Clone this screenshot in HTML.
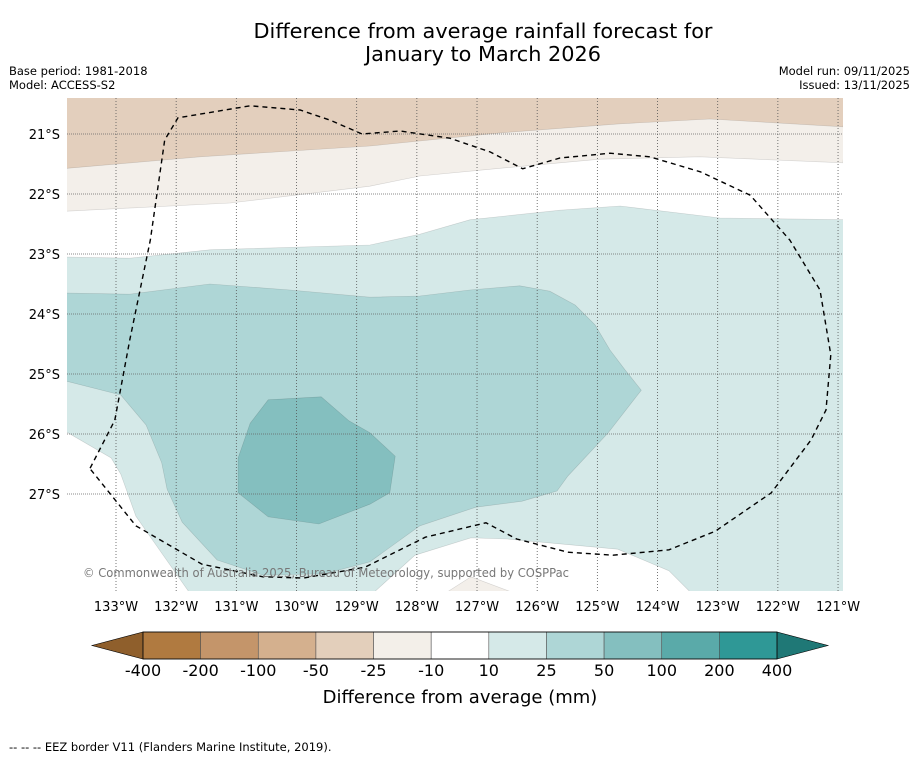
<!DOCTYPE html>
<html><head><meta charset="utf-8">
<style>
body{margin:0;background:#fff;width:919px;height:758px;overflow:hidden;font-family:"DejaVu Sans","Liberation Sans",sans-serif;}
svg{position:absolute;left:0;top:0}
</style></head>
<body>
<svg id="chart" width="919" height="758" viewBox="0 0 919 758" xmlns="http://www.w3.org/2000/svg" font-family="DejaVu Sans, Liberation Sans, sans-serif">
<text x="483" y="38" text-anchor="middle" font-size="20" fill="#000" textLength="459" lengthAdjust="spacingAndGlyphs">Difference from average rainfall forecast for</text>
<text x="483" y="61" text-anchor="middle" font-size="20" fill="#000" textLength="236" lengthAdjust="spacingAndGlyphs">January to March 2026</text>
<text x="9" y="75" font-size="11.5">Base period: 1981-2018</text>
<text x="9" y="89" font-size="11.5">Model: ACCESS-S2</text>
<text x="910" y="75" font-size="11.5" text-anchor="end">Model run: 09/11/2025</text>
<text x="910" y="89" font-size="11.5" text-anchor="end">Issued: 13/11/2025</text>
<defs><clipPath id="mapclip"><rect x="67" y="98" width="776" height="493"/></clipPath></defs>
<g id="map" clip-path="url(#mapclip)"></g>
<g id="grid"></g>
<g id="axes"></g>
<text x="83" y="577" font-size="12" fill="#777" textLength="486" lengthAdjust="spacingAndGlyphs">© Commonwealth of Australia 2025, Bureau of Meteorology, supported by COSPPac</text>
<g id="cbar"></g>
<text x="460" y="703" text-anchor="middle" font-size="18">Difference from average (mm)</text>
<text x="9" y="751" font-size="11.5">--  --  -- EEZ border V11 (Flanders Marine Institute, 2019).</text>
</svg>
<script>
const NS="http://www.w3.org/2000/svg";
// longitude in degrees West, latitude in degrees South
const lonTicks=[133,132,131,130,129,128,127,126,125,124,123,122,121];
const latTicks=[21,22,23,24,25,26,27];
const brownBand=[[133.9,20.3],[120.8,20.3],[120.92,20.88],[123.13,20.75],[124.62,20.83],[126.6,20.98],[128.78,21.2],[131.6,21.38],[133.9,21.58]];
const beigeBand=[[133.9,20.3],[120.8,20.3],[120.92,21.48],[123.3,21.38],[124.96,21.42],[126.6,21.57],[127.95,21.7],[128.78,21.87],[131.1,22.15],[133.9,22.29]];
const lightTeal=[[133.9,23.05],[132.77,23.07],[131.44,22.93],[128.78,22.85],[127.95,22.67],[127.12,22.43],[125.62,22.27],[124.62,22.2],[122.96,22.4],[120.8,22.43],[120.8,28.8],[133.9,28.8]];
const whiteWedge=[[133.9,25.92],[133.08,26.4],[132.92,26.67],[132.67,27.37],[132.37,27.8],[131.74,28.7],[133.9,28.7]];
const whiteBottom=[[128.78,28.7],[128.03,28.02],[127.1,27.73],[126.5,27.75],[124.66,27.92],[123.81,28.28],[123.39,28.7]];
const beigeSmall=[[127.6,28.7],[127.1,28.38],[126.25,28.7]];
const mediumTeal=[[133.9,23.65],[132.77,23.67],[131.44,23.5],[130.11,23.6],[128.78,23.72],[127.95,23.7],[127.12,23.6],[126.29,23.53],[125.79,23.62],[125.37,23.85],[125.04,24.18],[124.79,24.6],[124.54,24.93],[124.27,25.27],[124.82,25.98],[125.49,26.7],[125.67,26.95],[126.25,27.12],[127.02,27.22],[127.95,27.53],[128.78,28.13],[129.54,28.33],[130.56,28.35],[131.32,28.1],[131.9,27.47],[132.15,26.92],[132.24,26.48],[132.5,25.85],[132.92,25.35],[133.9,25.1]];
const darkTeal=[[130.47,25.43],[129.59,25.38],[129.13,25.78],[128.78,25.98],[128.36,26.37],[128.45,26.98],[128.78,27.17],[129.63,27.5],[130.47,27.38],[130.97,26.98],[130.97,26.4],[130.77,25.82]];
const eezLine=[[133.43,26.57],[133.02,25.77],[132.77,24.43],[132.43,22.77],[132.19,21.1],[131.97,20.73],[130.77,20.53],[129.94,20.6],[129.44,20.77],[128.91,21],[128.28,20.95],[127.45,21.07],[126.78,21.3],[126.24,21.58],[125.62,21.4],[124.79,21.32],[124.13,21.38],[123.29,21.63],[122.46,22.02],[121.8,22.77],[121.3,23.6],[121.12,24.68],[121.2,25.6],[121.45,26.1],[122.11,26.98],[123.04,27.62],[123.81,27.93],[124.74,28.02],[125.49,27.97],[126.34,27.75],[126.85,27.48],[127.86,27.72],[128.86,28.22],[129.88,28.4],[130.56,28.38],[131.57,28.17],[132.67,27.53],[133.43,26.58]];
const cbarLabels=["-400","-200","-100","-50","-25","-10","10","25","50","100","200","400"];
const cbarColors=["#b07a40","#c4956a","#d4b08e","#e3cfbb","#f3efe9","#ffffff","#d5e9e8","#aed6d6","#84bfbf","#5aaaa9","#2f9896"];

const xS=lon=>116+(133-lon)*60.17;
const yS=lat=>134+(lat-21)*60;
const pts=a=>a.map(p=>xS(p[0]).toFixed(1)+","+yS(p[1]).toFixed(1)).join(" ");
function mk(tag,attrs,parent){const e=document.createElementNS(NS,tag);for(const k in attrs)e.setAttribute(k,attrs[k]);parent.appendChild(e);return e;}
const map=document.getElementById("map");
let bg=mk("rect",{x:67,y:98,width:776,height:493,fill:"#fff"},map);


function poly(arr,fill,name){const p=mk("polygon",{points:pts(arr),fill:fill,stroke:"rgba(0,0,0,0.15)","stroke-width":0.6},map);


return p;}
poly(beigeBand,"#f3efea","contour-minus10-band");
poly(brownBand,"#e3cfbd","contour-minus25-band");
poly(lightTeal,"#d5e9e8","contour-10-25-band");
poly(whiteWedge,"#ffffff","neutral-area-west");
poly(whiteBottom,"#ffffff","neutral-area-south");
poly(beigeSmall,"#f3efea","contour-minus10-patch");
poly(mediumTeal,"#aed6d6","contour-25-50-band");
poly(darkTeal,"#84bfbf","contour-50-100-band");

const grid=document.getElementById("grid");
lonTicks.forEach(l=>{const x=xS(l);
 const ln=mk("line",{x1:x,y1:98,x2:x,y2:591,stroke:"#555","stroke-width":0.8,"stroke-dasharray":"1,2"},grid);
 
 
 const t=mk("text",{x:x,y:611,"text-anchor":"middle","font-size":13},document.getElementById("axes"));t.textContent=l+"°W";
 
 
});
latTicks.forEach(l=>{const y=yS(l);
 const ln=mk("line",{x1:67,y1:y,x2:843,y2:y,stroke:"#666","stroke-width":0.8,"stroke-dasharray":"1,1"},grid);
 
 
 const t=mk("text",{x:60,y:y+5,"text-anchor":"end","font-size":13},document.getElementById("axes"));t.textContent=l+"°S";
 
 
});
const eez=mk("polyline",{points:pts(eezLine),fill:"none",stroke:"#000","stroke-width":1.4,"stroke-dasharray":"5,4"},grid);



const cb=document.getElementById("cbar");
const x0=143,x1=777,cy0=632,cy1=659,w=(x1-x0)/cbarColors.length;
const lt=mk("polygon",{points:`${x0},${cy0} ${x0},${cy1} 92,${(cy0+cy1)/2}`,fill:"#8f5f2c",stroke:"#000","stroke-width":0.6},cb);


const rt=mk("polygon",{points:`${x1},${cy0} ${x1},${cy1} 828,${(cy0+cy1)/2}`,fill:"#1f7876",stroke:"#000","stroke-width":0.6},cb);


cbarColors.forEach((c,i)=>{const r=mk("rect",{x:x0+i*w,y:cy0,width:w,height:cy1-cy0,fill:c,stroke:"#555","stroke-width":0.6},cb);
 
 });
mk("rect",{x:x0,y:cy0,width:x1-x0,height:cy1-cy0,fill:"none",stroke:"#000","stroke-width":0.8},cb);
cbarLabels.forEach((s,i)=>{const t=mk("text",{x:x0+i*w,y:676,"text-anchor":"middle","font-size":16},cb);t.textContent=s;
 
 });
</script>
</body></html>
